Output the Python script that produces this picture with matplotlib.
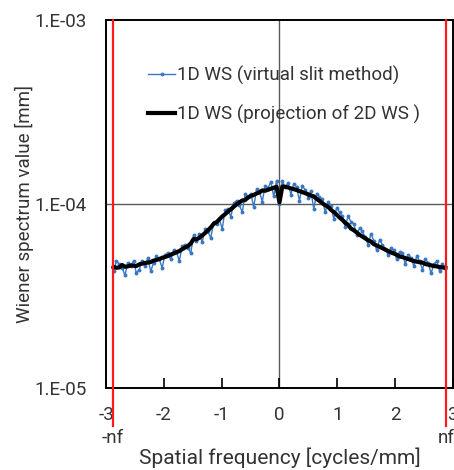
import numpy as np
import matplotlib as mpl
mpl.use('Agg')
import matplotlib.pyplot as plt
from matplotlib.ticker import FixedLocator, NullLocator

plt.rcParams['font.family'] = ['Roboto', 'DejaVu Sans']

# Nyquist frequency [cycles/mm]
nyquist = 2.88

# spatial frequency grid [cycles/mm], shared by both curves
freq = np.linspace(-2.87, 2.87, 117)

# 1D WS (projection of 2D WS), values in 1e-5 mm
ws_proj = [4.55, 4.50, 4.52, 4.66, 4.56, 4.58, 4.64, 4.62, 4.60, 4.70,
           4.74, 4.78, 4.80, 4.84, 4.92, 4.97, 5.02, 5.10, 5.15, 5.22,
           5.30, 5.38, 5.46, 5.55, 5.68, 5.80, 5.90, 6.10, 6.45, 6.42,
           6.55, 6.75, 6.95, 7.20, 7.45, 7.80, 7.95, 8.25, 8.55, 8.80,
           9.10, 9.35, 9.65, 9.95, 10.20, 10.45, 10.50, 10.85, 11.05, 11.20,
           11.40, 11.55, 11.85, 11.80, 11.95, 12.10, 12.25, 12.40,
           10.20,
           12.45, 12.40, 12.30, 12.15, 12.05, 11.90, 11.75, 11.60,
           11.45, 11.30, 11.10, 11.00, 10.65, 10.40, 10.10, 9.85, 9.65, 9.30,
           9.05, 8.75, 8.45, 8.20, 7.90, 7.70, 7.35, 7.20, 7.00, 6.80,
           6.65, 6.50, 6.35, 6.25, 6.05, 5.95, 5.85, 5.75, 5.65, 5.55,
           5.45, 5.38, 5.30, 5.18, 5.15, 5.08, 5.02, 4.96, 4.90, 4.86,
           4.82, 4.80, 4.72, 4.68, 4.64, 4.60, 4.58, 4.54, 4.52, 4.50]

# 1D WS (virtual slit method), values in 1e-5 mm
ws_slit = [4.3, 4.9, 4.7, 4.5, 4.1, 4.8, 4.6, 4.9, 4.2, 4.4,
           4.9, 4.6, 5.1, 4.3, 4.8, 5.2, 5.0, 4.5, 5.3, 5.4,
           5.0, 5.6, 5.5, 4.9, 5.9, 6.0, 5.8, 5.4, 6.8, 6.3,
           6.9, 6.2, 7.3, 7.1, 6.5, 8.0, 7.8, 8.3, 7.3, 9.3,
           9.4, 8.5, 10.1, 10.4, 9.9, 9.0, 11.3, 10.9, 11.4, 9.6,
           12.0, 11.7, 10.3, 12.6, 12.2, 13.2, 11.0, 13.4,
           10.0,
           13.3, 12.3, 13.0, 11.2, 12.9, 12.4, 10.4, 12.6,
           11.9, 10.8, 11.8, 9.4, 11.4, 10.9, 10.6, 9.0, 10.3, 9.8,
           8.3, 9.5, 9.0, 8.6, 7.5, 8.6, 8.0, 7.8, 6.8, 7.4,
           7.1, 6.6, 6.0, 6.9, 6.3, 5.6, 6.4, 6.0, 5.7, 5.3,
           5.8, 5.6, 5.0, 5.5, 5.4, 4.7, 5.3, 5.1, 4.6, 5.2,
           4.9, 4.4, 5.0, 4.8, 4.2, 4.7, 4.9, 4.3, 4.7, 4.5]

ytick_values = [1e-5, 1e-4, 1e-3]
ytick_labels = ['1.E-05', '1.E-04', '1.E-03']
xtick_values = [-3, -2, -1, 0, 1, 2, 3]

text_color = '#333333'

fig = plt.figure(figsize=(4.54, 4.70), dpi=100)
ax = fig.add_axes([0.2335, 0.1745, 0.764, 0.783])

# lines through 1E-04 and 0
ax.axhline(1e-4, color='#595959', lw=1.0, zorder=1)
ax.axvline(0, color='#595959', lw=1.0, zorder=1)

ax.plot(freq, np.array(ws_slit) * 1e-5, color='#3a78c4', lw=1.0,
        marker='o', markersize=1.8, label='1D WS (virtual slit method)',
        zorder=3)
ax.plot(freq, np.array(ws_proj) * 1e-5, color='black', lw=3.0,
        label='1D WS (projection of 2D WS )', zorder=4)

# Nyquist markers, running below the axis
for xn in (-nyquist, nyquist):
    ax.plot([xn, xn], [1e-3, 6.2e-6], color='#ff1a1a', lw=1.6,
            clip_on=False, zorder=5)

ax.set_yscale('log')
ax.set_xlim(-3, 3)
ax.set_ylim(1e-5, 1e-3)
ax.yaxis.set_major_locator(FixedLocator(ytick_values))
ax.yaxis.set_minor_locator(NullLocator())
ax.set_yticklabels(ytick_labels)
ax.set_xticks(xtick_values)
ax.set_xticklabels([str(v) for v in xtick_values])
ax.tick_params(axis='x', direction='in', length=7, width=1.2,
               labelsize=13.5, pad=13, colors='black',
               labelcolor=text_color)
ax.tick_params(axis='y', length=0, labelsize=13.5, pad=14,
               labelcolor=text_color)
for s in ax.spines.values():
    s.set_linewidth(1.4)
    s.set_color('black')

ax.text(-nyquist, -0.135, '-nf', transform=ax.get_xaxis_transform(),
        ha='center', va='center', fontsize=13.5, color=text_color)
ax.text(nyquist, -0.135, 'nf', transform=ax.get_xaxis_transform(),
        ha='center', va='center', fontsize=13.5, color=text_color)

ax.set_xlabel('Spatial frequency [cycles/mm]', fontsize=15,
              color=text_color, labelpad=17)
ax.set_ylabel('Wiener spectrum value [mm]', fontsize=13.5,
              color=text_color)
ax.yaxis.set_label_coords(-0.207, 0.5)

ax.legend(loc='upper left', bbox_to_anchor=(0.1, 0.895), frameon=False,
          fontsize=13.5, handlelength=1.45, handletextpad=0.1,
          labelspacing=1.05, labelcolor=text_color, borderaxespad=0)

fig.savefig('out.png', dpi=100)
